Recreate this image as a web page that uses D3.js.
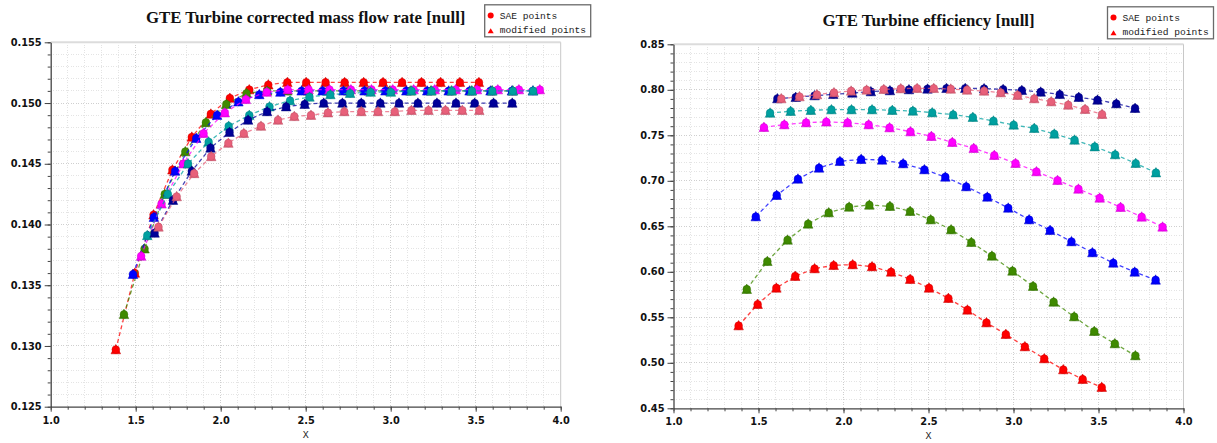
<!DOCTYPE html>
<html><head><meta charset="utf-8">
<script src="https://cdn.jsdelivr.net/npm/d3@7"></script>
<style>body{margin:0;background:#fff}svg{display:block}</style>
</head><body>
<svg id="c" width="1217" height="443"></svg>
<script>
// ---------- DATA ----------
const seriesNames = ["red","green","blue","magenta","teal","navy","pink"];
const seriesColors = ["#ff0000","#3f8a00","#0000ff","#ff00ff","#00a0a0","#000099","#e8607a"];

const xRed     = [1.383,1.495,1.605,1.716,1.830,1.942,2.054,2.168,2.280,2.392,2.503,2.617,2.729,2.841,2.955,3.067,3.181,3.293,3.407,3.519];
const xGreen   = [1.431,1.552,1.671,1.792,1.913,2.033,2.152,2.273,2.392,2.513,2.633,2.752,2.873,2.994,3.115,3.236,3.357,3.475,3.596,3.717];
const xBlue    = [1.484,1.607,1.732,1.856,1.979,2.104,2.227,2.351,2.476,2.599,2.722,2.846,2.969,3.092,3.215,3.341,3.464,3.587,3.713,3.836];
const xMagenta = [1.532,1.652,1.780,1.899,2.024,2.148,2.271,2.394,2.517,2.640,2.766,2.887,3.012,3.135,3.259,3.382,3.507,3.630,3.754,3.877];
const xTeal    = [1.568,1.689,1.808,1.929,2.047,2.168,2.287,2.408,2.522,2.645,2.761,2.882,3.001,3.122,3.240,3.359,3.478,3.598,3.719,3.838];
const xNavy    = [1.611,1.719,1.830,1.940,2.052,2.161,2.273,2.385,2.494,2.606,2.716,2.827,2.939,3.049,3.160,3.272,3.384,3.494,3.605,3.715];
const xPink    = [1.634,1.741,1.844,1.944,2.045,2.136,2.237,2.337,2.433,2.531,2.631,2.727,2.827,2.925,3.024,3.122,3.222,3.322,3.421,3.521];

// corrected mass flow rate
const mfRed     = [0.1297,0.1360,0.1408,0.1445,0.1472,0.1491,0.1504,0.1511,0.1515,0.1517,0.1517,0.1517,0.1517,0.1517,0.1517,0.1517,0.1517,0.1517,0.1517,0.1517];
const mfGreen   = [0.1326,0.1380,0.1425,0.1460,0.1484,0.1499,0.1508,0.1510,0.1510,0.1510,0.1510,0.1510,0.1510,0.1510,0.1510,0.1510,0.1510,0.1510,0.1510,0.1510];
const mfBlue    = [0.1359,0.1406,0.1444,0.1471,0.1490,0.1501,0.1507,0.1509,0.1510,0.1510,0.1510,0.1510,0.1510,0.1510,0.1510,0.1510,0.1510,0.1510,0.1510,0.1510];
const mfMagenta = [0.1374,0.1417,0.1450,0.1475,0.1492,0.1503,0.1509,0.1511,0.1511,0.1511,0.1511,0.1511,0.1511,0.1511,0.1511,0.1511,0.1511,0.1511,0.1511,0.1511];
const mfTeal    = [0.1391,0.1425,0.1450,0.1468,0.1481,0.1490,0.1497,0.1502,0.1505,0.1507,0.1508,0.1509,0.1509,0.1510,0.1510,0.1510,0.1510,0.1510,0.1510,0.1510];
const mfNavy    = [0.1393,0.1420,0.1444,0.1463,0.1476,0.1486,0.1493,0.1497,0.1499,0.1500,0.1500,0.1500,0.1500,0.1500,0.1500,0.1500,0.1500,0.1500,0.1500,0.1500];
const mfPink    = [0.1398,0.1423,0.1442,0.1456,0.1467,0.1475,0.1481,0.1486,0.1489,0.1490,0.1492,0.1493,0.1493,0.1493,0.1493,0.1494,0.1494,0.1494,0.1494,0.1494];

// efficiency
const efRed     = [0.5408,0.5643,0.5822,0.5951,0.6035,0.6071,0.6079,0.6057,0.5998,0.5918,0.5822,0.5709,0.5581,0.5441,0.5313,0.5178,0.5046,0.4925,0.4819,0.4731];
const efGreen   = [0.5808,0.6115,0.6350,0.6526,0.6650,0.6712,0.6734,0.6720,0.6665,0.6573,0.6463,0.6324,0.6174,0.6009,0.5841,0.5668,0.5507,0.5346,0.5211,0.5079];
const efBlue    = [0.6606,0.6841,0.7020,0.7141,0.7214,0.7236,0.7229,0.7189,0.7123,0.7042,0.6936,0.6822,0.6701,0.6573,0.6456,0.6332,0.6211,0.6097,0.5998,0.5910];
const efMagenta = [0.7588,0.7617,0.7639,0.7647,0.7639,0.7617,0.7584,0.7540,0.7489,0.7423,0.7357,0.7280,0.7192,0.7101,0.7005,0.6910,0.6811,0.6709,0.6603,0.6493];
const efTeal    = [0.7745,0.7764,0.7775,0.7782,0.7782,0.7782,0.7775,0.7767,0.7749,0.7727,0.7698,0.7658,0.7614,0.7577,0.7515,0.7449,0.7375,0.7288,0.7192,0.7089];
const efNavy    = [0.7903,0.7918,0.7936,0.7950,0.7965,0.7980,0.7991,0.8002,0.8009,0.8016,0.8016,0.8013,0.8005,0.7994,0.7976,0.7950,0.7918,0.7888,0.7848,0.7797];
const efPink    = [0.7903,0.7925,0.7947,0.7969,0.7987,0.7998,0.8005,0.8013,0.8016,0.8016,0.8009,0.7998,0.7987,0.7969,0.7940,0.7903,0.7870,0.7833,0.7786,0.7731];

const xTicks = [1.0,1.5,2.0,2.5,3.0,3.5,4.0];
const mfTicks = [0.125,0.130,0.135,0.140,0.145,0.150,0.155];
const efTicks = [0.45,0.50,0.55,0.60,0.65,0.70,0.75,0.80,0.85];
const legendLabels = ["SAE points","modified points"];
const titles = ["GTE Turbine corrected mass flow rate [null]","GTE Turbine efficiency [null]"];
const xLabel = "X";

// ---------- BUILD ----------
const xs = [xRed,xGreen,xBlue,xMagenta,xTeal,xNavy,xPink];
const mfs = [mfRed,mfGreen,mfBlue,mfMagenta,mfTeal,mfNavy,mfPink];
const efs = [efRed,efGreen,efBlue,efMagenta,efTeal,efNavy,efPink];

const svg = d3.select("#c");

function drawChart(cfg){
  const g = svg.append("g");
  const x = d3.scaleLinear().domain([1,4]).range([cfg.left, cfg.right]);
  const y = d3.scaleLinear().domain(cfg.yDomain).range([cfg.bottom, cfg.top]);

  const xMinor = d3.range(0,31).map(i=>1+i*0.1);
  const nY = Math.round((cfg.yDomain[1]-cfg.yDomain[0])/cfg.yMinorStep);
  const yMinor = d3.range(0,nY+1).map(i=>cfg.yDomain[0]+i*cfg.yMinorStep);
  const isMajorY = v => cfg.yTicks.some(t=>Math.abs(t-v)<1e-9);
  const isMajorX = v => xTicks.some(t=>Math.abs(t-v)<1e-9);

  // grid
  const grid = g.append("g");
  grid.selectAll("line.vx").data(xMinor.slice(1,-1)).join("line")
    .attr("x1",d=>x(d)).attr("x2",d=>x(d)).attr("y1",cfg.top).attr("y2",cfg.bottom)
    .attr("stroke",d=>isMajorX(d)?"#cfcfcf":"#e4e4e4").attr("stroke-width",1)
    .attr("stroke-dasharray","1,1.5").attr("shape-rendering","crispEdges");
  grid.selectAll("line.hy").data(yMinor.slice(1,-1)).join("line")
    .attr("y1",d=>y(d)).attr("y2",d=>y(d)).attr("x1",cfg.left).attr("x2",cfg.right)
    .attr("stroke",d=>isMajorY(d)?"#cfcfcf":"#e4e4e4").attr("stroke-width",1)
    .attr("stroke-dasharray","1,1.5").attr("shape-rendering","crispEdges");

  // frame top/right
  g.append("line").attr("x1",cfg.left).attr("x2",cfg.right).attr("y1",cfg.top).attr("y2",cfg.top)
    .attr("stroke","#dcdcdc").attr("stroke-width",2);
  g.append("line").attr("x1",cfg.right).attr("x2",cfg.right).attr("y1",cfg.top).attr("y2",cfg.bottom)
    .attr("stroke","#c8c8c8").attr("stroke-width",1);

  // axes
  const tickFont = "bold 9.8px 'DejaVu Sans', Verdana, sans-serif";
  const yMinorAx = g.append("g").attr("transform",`translate(${cfg.left},0)`)
    .call(d3.axisLeft(y).tickValues(yMinor).tickSize(3).tickFormat(""));
  yMinorAx.select(".domain").remove();
  const yAx = g.append("g").attr("transform",`translate(${cfg.left},0)`)
    .call(d3.axisLeft(y).tickValues(cfg.yTicks).tickSize(6).tickPadding(3).tickFormat(d3.format(cfg.yFmt)).tickSizeOuter(0));
  const xMinorAx = g.append("g").attr("transform",`translate(0,${cfg.bottom})`)
    .call(d3.axisBottom(x).tickValues(xMinor).tickSize(3).tickFormat(""));
  xMinorAx.select(".domain").remove();
  const xAx = g.append("g").attr("transform",`translate(0,${cfg.bottom})`)
    .call(d3.axisBottom(x).tickValues(xTicks).tickSize(5).tickPadding(5).tickFormat(d3.format(".1f")).tickSizeOuter(0));
  [yAx,xAx,yMinorAx,xMinorAx].forEach(a=>{
    a.selectAll("line").attr("stroke","#444");
    a.selectAll(".domain").attr("stroke","#444").attr("stroke-width",1.3);
    a.selectAll("text").style("font",tickFont).attr("fill","#111");
  });

  // title
  g.append("text").attr("x",(cfg.left+cfg.right)/2).attr("y",cfg.titleY)
    .attr("text-anchor","middle")
    .style("font","bold 16.8px 'Liberation Serif', 'Times New Roman', serif").attr("fill","#111")
    .text(cfg.title);
  // x label
  g.append("text").attr("x",(cfg.left+cfg.right)/2).attr("y",cfg.bottom+31)
    .attr("text-anchor","middle")
    .style("font","10px 'Liberation Mono', monospace").style("fill","#222").text(xLabel);

  // series
  const line = d3.line().x(d=>x(d[0])).y(d=>y(d[1]));
  const tri = (cx,cy)=>`M${cx-4.8},${cy+4.2} L${cx},${cy-5.2} L${cx+4.8},${cy+4.2} Z`;
  cfg.ys.forEach((ys,i)=>{
    const pts = xs[i].map((xv,j)=>[xv,ys[j]]);
    const col = seriesColors[i];
    const sg = g.append("g");
    sg.append("path").attr("d",line(pts)).attr("fill","none")
      .attr("stroke",col).attr("stroke-opacity",0.75).attr("stroke-width",1.3)
      .attr("stroke-dasharray","4,3");
    const dark = d3.color(col).darker(0.7).formatHex();
    sg.selectAll("path.t").data(pts).join("path").attr("class","t")
      .attr("d",d=>tri(x(d[0]),y(d[1]))).attr("fill",col)
      .attr("stroke",dark).attr("stroke-width",0.5);
    sg.selectAll("circle").data(pts).join("circle")
      .attr("cx",d=>x(d[0])).attr("cy",d=>y(d[1])).attr("r",3.9)
      .attr("fill",col).attr("stroke",dark).attr("stroke-width",0.4);
  });

  // legend
  const lg = g.append("g").attr("transform",`translate(${cfg.right-76},${cfg.top-37.5})`);
  lg.append("rect").attr("x",0).attr("y",0).attr("width",106).attr("height",32)
    .attr("fill","#fff").attr("stroke","#6a6a6a").attr("stroke-width",1.3);
  lg.append("circle").attr("cx",6).attr("cy",10.6).attr("r",3).attr("fill","#ff0000");
  lg.append("path").attr("d","M3,28.5 L6,23.5 L9,28.5 Z").attr("fill","#ff0000");
  lg.selectAll("text").data(legendLabels).join("text")
    .attr("x",15).attr("y",(d,i)=>14.5+i*14)
    .style("font","9.6px 'Liberation Mono', 'Courier New', monospace").attr("fill","#222")
    .text(d=>d);
}

drawChart({left:50.7,right:560.7,top:42.3,bottom:406.7,yDomain:[0.125,0.155],yTicks:mfTicks,yMinorStep:0.001,
  yFmt:".3f",title:titles[0],titleY:23.3,ys:mfs});
drawChart({left:673.5,right:1183.5,top:44.3,bottom:408.3,yDomain:[0.45,0.85],yTicks:efTicks,yMinorStep:0.01,
  yFmt:".2f",title:titles[1],titleY:26,ys:efs});
</script>
</body></html>
